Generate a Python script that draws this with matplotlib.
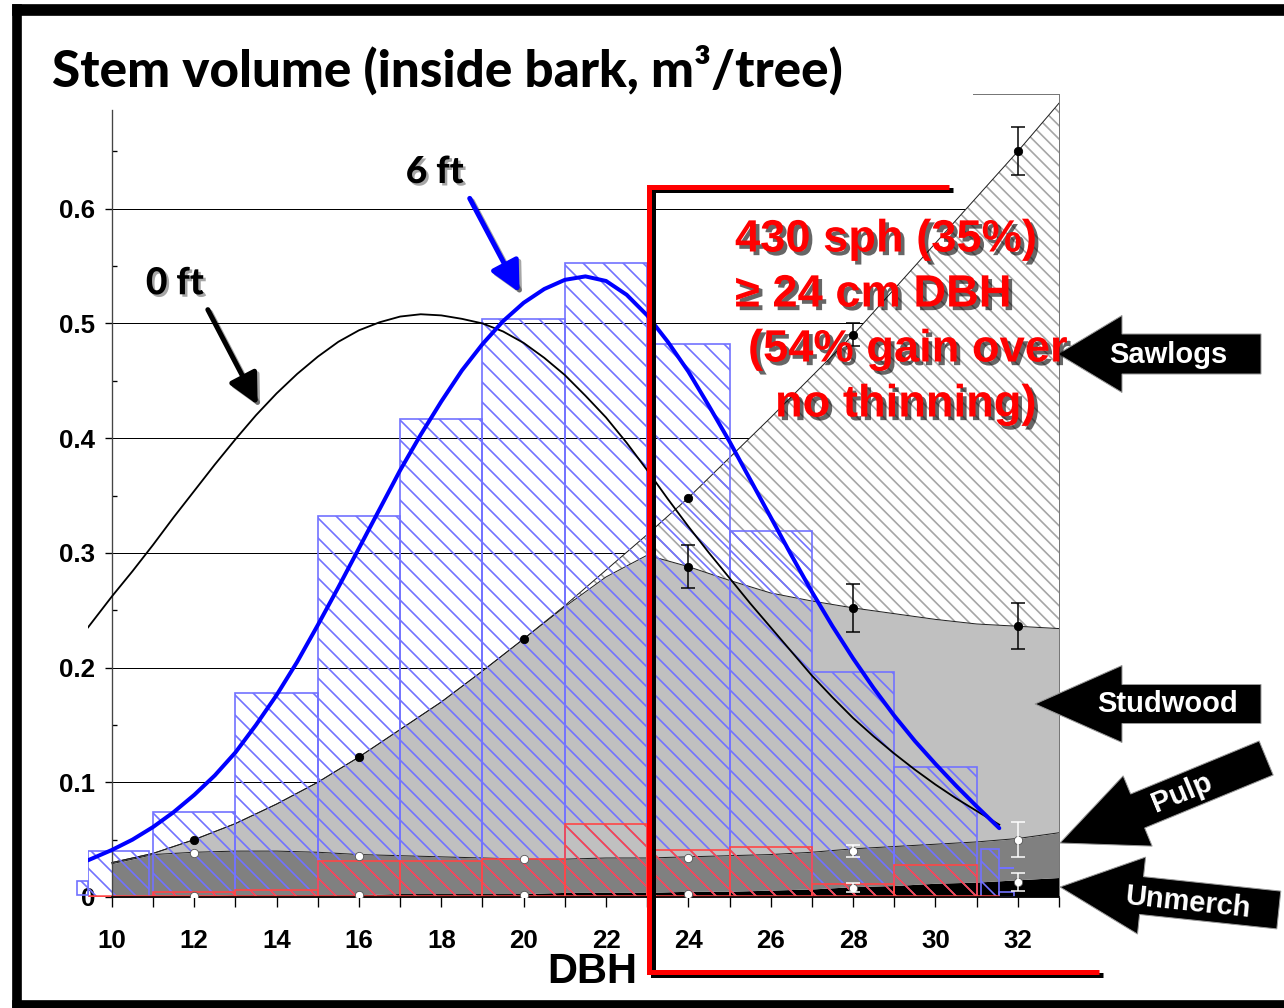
import matplotlib
matplotlib.use("Agg")
import matplotlib.pyplot as plt
import matplotlib.patheffects as pe
from matplotlib.patches import Polygon, Rectangle
import numpy as np

plt.rcParams["font.family"] = ["Liberation Sans", "DejaVu Sans"]
plt.rcParams["font.weight"] = "bold"
plt.rcParams["axes.labelweight"] = "bold"
plt.rcParams["hatch.linewidth"] = 1.0

# ---- data ----
dbh_grid = [10, 11, 12, 13, 14, 15, 16, 17, 18, 19, 20, 21,
            22, 23, 24, 25, 26, 27, 28, 29, 30, 31, 32, 33]
unmerch_top = [0.001, 0.001, 0.001, 0.002, 0.002, 0.002, 0.002, 0.003, 0.003, 0.003, 0.003, 0.004,
               0.004, 0.004, 0.005, 0.005, 0.006, 0.007, 0.009, 0.010, 0.012, 0.013, 0.015, 0.017]
pulp_top = [0.029, 0.037, 0.039, 0.040, 0.040, 0.039, 0.037, 0.036, 0.035, 0.034, 0.033, 0.033,
            0.034, 0.034, 0.035, 0.036, 0.037, 0.039, 0.042, 0.044, 0.046, 0.048, 0.051, 0.056]
stud_top = [0.030, 0.038, 0.050, 0.064, 0.081, 0.100, 0.122, 0.146, 0.170, 0.197, 0.225, 0.253,
            0.279, 0.298, 0.288, 0.276, 0.265, 0.258, 0.252, 0.247, 0.242, 0.238, 0.236, 0.234]
total_top = [0.030, 0.038, 0.050, 0.064, 0.081, 0.100, 0.122, 0.146, 0.170, 0.197, 0.225, 0.254,
             0.285, 0.316, 0.348, 0.383, 0.418, 0.454, 0.490, 0.530, 0.570, 0.610, 0.650, 0.692]

# diameter classes (bin edges) and bar heights
bin_lo = [9.42, 11, 13, 15, 17, 19, 21, 23, 25, 27, 29, 31.1]
bin_hi = [10.9, 13, 15, 17, 19, 21, 23, 25, 27, 29, 31, 31.55]
blue_h = [0.040, 0.074, 0.178, 0.332, 0.417, 0.504, 0.553, 0.482, 0.319, 0.196, 0.113, 0.042]
red_lo = [11, 13, 15, 17, 19, 21, 23, 25, 27, 29]
red_hi = [13, 15, 17, 19, 21, 23, 25, 27, 29, 31]
red_h = [0.004, 0.006, 0.031, 0.031, 0.033, 0.064, 0.041, 0.044, 0.011, 0.028]

# 0 ft and 6 ft curves
curve_x = [9.42, 10, 10.5, 11, 11.5, 12, 12.5, 13, 13.5, 14, 14.5, 15, 15.5, 16, 16.5,
           17, 17.5, 18, 18.5, 19, 19.5, 20, 20.5, 21, 21.5, 22, 22.5, 23, 23.5,
           24, 24.5, 25, 25.5, 26, 26.5, 27, 27.5, 28, 28.5, 29, 29.5, 30, 30.5, 31, 31.55]
curve_0ft = [0.235, 0.262, 0.284, 0.307, 0.331, 0.354, 0.377, 0.399, 0.420, 0.439, 0.456,
             0.471, 0.484, 0.494, 0.501, 0.506, 0.508, 0.507, 0.504, 0.500, 0.493, 0.483,
             0.470, 0.455, 0.437, 0.418, 0.396, 0.372, 0.347, 0.323, 0.300, 0.278, 0.256,
             0.235, 0.214, 0.193, 0.174, 0.156, 0.140, 0.125, 0.111, 0.098, 0.086, 0.075, 0.063]
curve_6ft = [0.032, 0.041, 0.050, 0.061, 0.074, 0.089, 0.106, 0.126, 0.150, 0.176, 0.205,
             0.237, 0.270, 0.304, 0.338, 0.372, 0.403, 0.432, 0.459, 0.482, 0.502, 0.518,
             0.530, 0.538, 0.541, 0.537, 0.525, 0.507, 0.484, 0.458, 0.428, 0.397, 0.364,
             0.331, 0.298, 0.266, 0.236, 0.208, 0.182, 0.158, 0.136, 0.116, 0.097, 0.079, 0.060]

# measured points
pt_x = [12, 16, 20, 24, 28, 32]
pt_total = [0.050, 0.122, 0.225, 0.348, 0.490, 0.650]
err_total = [0, 0, 0, 0, 0.010, 0.021]
pt_stud_x = [24, 28, 32]
pt_stud = [0.288, 0.252, 0.236]
err_stud = [0.019, 0.021, 0.020]
pt_pulp = [0.038, 0.036, 0.033, 0.034, 0.040, 0.050]
err_pulp = [0, 0, 0, 0, 0.005, 0.015]
pt_unm = [0.001, 0.002, 0.002, 0.003, 0.008, 0.013]
err_unm = [0, 0, 0, 0, 0.004, 0.008]

x_ticks = [10, 12, 14, 16, 18, 20, 22, 24, 26, 28, 30, 32]
y_ticks = [0, 0.1, 0.2, 0.3, 0.4, 0.5, 0.6]
y_labels = ["0", "0.1", "0.2", "0.3", "0.4", "0.5", "0.6"]

DPI = 120
W, H = 1284, 1008


def fx(px):
    return px / W


def fy(py):
    return 1 - py / H


fig = plt.figure(figsize=(W / DPI, H / DPI), dpi=DPI)
fig.patch.set_facecolor("white")
ax = fig.add_axes([fx(88), fy(897), (1059 - 88) / W, (897 - 94) / H])
ax.set_xlim(9.42, 33)
ax.set_ylim(0, 0.7)
ax.set_facecolor("none")

ax.hlines(y_ticks[1:], 10, 33, color="black", lw=0.6, zorder=0.5)

g = np.array(dbh_grid)
ax.fill_between(g, 0, unmerch_top, color="black", lw=0, zorder=1)
ax.fill_between(g, unmerch_top, pulp_top, color="#808080", lw=0, zorder=1)
ax.fill_between(g, pulp_top, stud_top, color="#c0c0c0", lw=0, zorder=1)
ax.fill_between(g, stud_top, total_top, facecolor="white", edgecolor="#a6a6a6",
                hatch="\\\\\\", lw=0, zorder=1)
for yy in (total_top, stud_top, pulp_top):
    ax.plot(g, yy, color="#202020", lw=0.6, zorder=1.5)

# bars
lo = np.array(bin_lo)
ax.bar(lo, blue_h, width=np.array(bin_hi) - lo, align="edge", fill=False,
       edgecolor="#7272ff", hatch="\\\\", lw=1.0, zorder=2)
rlo = np.array(red_lo)
ax.bar(rlo, red_h, width=np.array(red_hi) - rlo, align="edge", fill=False,
       edgecolor="#ff4646", hatch="\\\\", lw=1.0, zorder=2.1)
ax.hlines(0.001, 9.42, 31.55, color="#ff4646", lw=1.5, zorder=2.1)
# stray legend bits
ax.add_patch(Rectangle((9.15, 0.002), 0.27, 0.012, fill=False, edgecolor="#7272ff",
                       hatch="\\\\", lw=1.0, clip_on=False, zorder=2))
ax.hlines(0.025, 31.55, 31.9, color="#7272ff", lw=1.2, zorder=2)
ax.add_patch(Rectangle((31.55, 0.0), 0.35, 0.004, fill=False, edgecolor="#7272ff",
                       lw=1.0, zorder=2))

# curves
ax.plot(curve_x, curve_0ft, color="black", lw=1.1, zorder=4)
ax.plot(curve_x, curve_6ft, color="#0000ff", lw=2.4, zorder=4, solid_capstyle="round")


def points(xs, ys, es, color):
    xs, ys, es = np.array(xs), np.array(ys), np.array(es)
    m = es > 0
    ax.plot(xs, ys, "o", color=color, ms=5, mec="#555555" if color == "white" else color,
            mew=0.5, zorder=3)
    if m.any():
        ax.errorbar(xs[m], ys[m], yerr=es[m], fmt="none", ecolor=color, elinewidth=0.9,
                    capsize=4, capthick=0.9, zorder=3)


points(pt_x, pt_total, err_total, "black")
points(pt_stud_x, pt_stud, err_stud, "black")
points(pt_x, pt_pulp, err_pulp, "white")
points(pt_x, pt_unm, err_unm, "white")

# axes styling
ax.spines["top"].set_visible(False)
ax.spines["right"].set_color("#777777")
ax.spines["right"].set_linewidth(0.6)
ax.spines["left"].set_position(("data", 10))
ax.spines["left"].set_bounds(0, 0.686)
ax.spines["left"].set_color("#444444")
ax.spines["left"].set_linewidth(0.8)
ax.spines["bottom"].set_bounds(10, 33)
ax.spines["bottom"].set_linewidth(1.0)
ax.plot([30.9, 33], [0.7, 0.7], color="#777777", lw=0.6, clip_on=False)

ax.set_xticks(x_ticks)
ax.set_xticks(range(11, 34, 2), minor=True)
ax.set_yticks(y_ticks)
ax.set_yticklabels(y_labels)
ax.set_yticks(np.arange(0.05, 0.7, 0.1), minor=True)
ax.tick_params(axis="x", which="both", direction="out", length=6, width=0.8,
               labelsize=15.5, pad=13)
ax.tick_params(axis="y", which="major", direction="out", length=4, width=0.8,
               labelsize=15.5, pad=6)
ax.tick_params(axis="y", which="minor", direction="in", length=3, width=0.8)

ax.set_xlabel("DBH", fontsize=25, fontweight="bold")
ax.xaxis.set_label_coords((592 - 88) / (1059 - 88), (897 - 972) / (897 - 94))
ax.xaxis.label.set_va("center")

renderer = fig.canvas.get_renderer()


def fit(txt, target_px):
    w = txt.get_window_extent(renderer).width
    txt.set_fontsize(txt.get_fontsize() * target_px / w)
    return txt.get_fontsize()


title = fig.text(fx(52), fy(70), "Stem volume (inside bark, m³/tree)",
                 family=["Lato", "DejaVu Sans"], fontweight="black",
                 fontsize=30, ha="left", va="center")
fit(title, 791)

shadow = [pe.withSimplePatchShadow(offset=(1.5, -1.5), shadow_rgbFace="black", alpha=0.35)]
t0 = ax.text(11.53, 0.535, "0 ft", family=["Lato", "DejaVu Sans"], fontweight="black",
             fontsize=22, ha="center", va="center", zorder=7, path_effects=shadow)
fit(t0, 58)
t6 = ax.text(17.84, 0.632, "6 ft", family=["Lato", "DejaVu Sans"], fontweight="black",
             fontsize=22, ha="center", va="center", zorder=7, path_effects=shadow)
fit(t6, 58)
arrow_sh = [pe.SimpleLineShadow(offset=(1.5, -1.5), shadow_color="black", alpha=0.35), pe.Normal()]
ax.annotate("", xy=(13.54, 0.429), xytext=(12.33, 0.512), zorder=7,
            arrowprops=dict(arrowstyle="-|>,head_length=0.7,head_width=0.35", lw=3, color="black",
                            shrinkA=0, shrinkB=0, mutation_scale=22, path_effects=arrow_sh))
ax.annotate("", xy=(19.9, 0.527), xytext=(18.69, 0.609), zorder=7,
            arrowprops=dict(arrowstyle="-|>,head_length=0.7,head_width=0.35", lw=3, color="#0000ff",
                            shrinkA=0, shrinkB=0, mutation_scale=22, path_effects=arrow_sh))

# red bracket marking the >= 24 cm classes
ax.plot([30.34, 23.05, 23.05, 33.98], [0.619, 0.619, -0.065, -0.065], color="red", lw=3,
        clip_on=False, zorder=6, solid_joinstyle="miter", solid_capstyle="butt",
        path_effects=[pe.SimpleLineShadow(offset=(2, -2), shadow_color="black", alpha=1),
                      pe.Normal()])

red_lines = [("430 sph (35%)", 735, 240), ("≥ 24 cm DBH", 735, 295),
             ("(54% gain over", 748, 350), ("no thinning)", 775, 405)]
red_shadow = [pe.withSimplePatchShadow(offset=(2.2, -2.2), shadow_rgbFace="black", alpha=0.6)]
size = None
for s, px, py in red_lines:
    t = fig.text(fx(px), fy(py), s, color="#ff0000", fontsize=size or 27, ha="left",
                 va="center", zorder=8, path_effects=red_shadow)
    if size is None:
        size = fit(t, 302)


def arrow(tip, ang, length, head, head_half, body_half, label, label_xy, fs=17.5):
    pts = np.array([[0, 0], [head, head_half], [head, body_half], [length, body_half],
                    [length, -body_half], [head, -body_half], [head, -head_half]], float)
    a = np.deg2rad(ang)
    rot = np.array([[np.cos(a), -np.sin(a)], [np.sin(a), np.cos(a)]])
    pts = pts @ rot.T
    xs = (tip[0] + pts[:, 0]) / W
    ys = fy(tip[1]) + pts[:, 1] / H
    fig.add_artist(Polygon(np.column_stack([xs, ys]), closed=True, transform=fig.transFigure,
                           facecolor="black", edgecolor="#9a9a9a", lw=0.6, zorder=5))
    fig.text(fx(label_xy[0]), fy(label_xy[1]), label, color="white", fontsize=fs,
             ha="center", va="center", rotation=ang, rotation_mode="anchor", zorder=9)


arrow((1058, 354), 0, 203, 64, 38.5, 20, "Sawlogs", (1168, 355))
arrow((1035, 704), 0, 226, 87, 38.5, 19.5, "Studwood", (1168, 704))
arrow((1060, 843), 22.4, 223, 84, 38, 18.4, "Pulp", (1182, 793))
arrow((1060, 887), -6, 220, 82, 38.7, 19, "Unmerch", (1188, 903))

# slide frame
for r in [(13, 5, W - 13, 10), (13, 5, 8, H - 5), (13, 1001, W - 13, 7)]:
    fig.add_artist(Rectangle((fx(r[0]), fy(r[1] + r[3])), r[2] / W, r[3] / H,
                             transform=fig.transFigure, color="black", zorder=10))

fig.savefig("out.png", dpi=DPI, facecolor="white")
